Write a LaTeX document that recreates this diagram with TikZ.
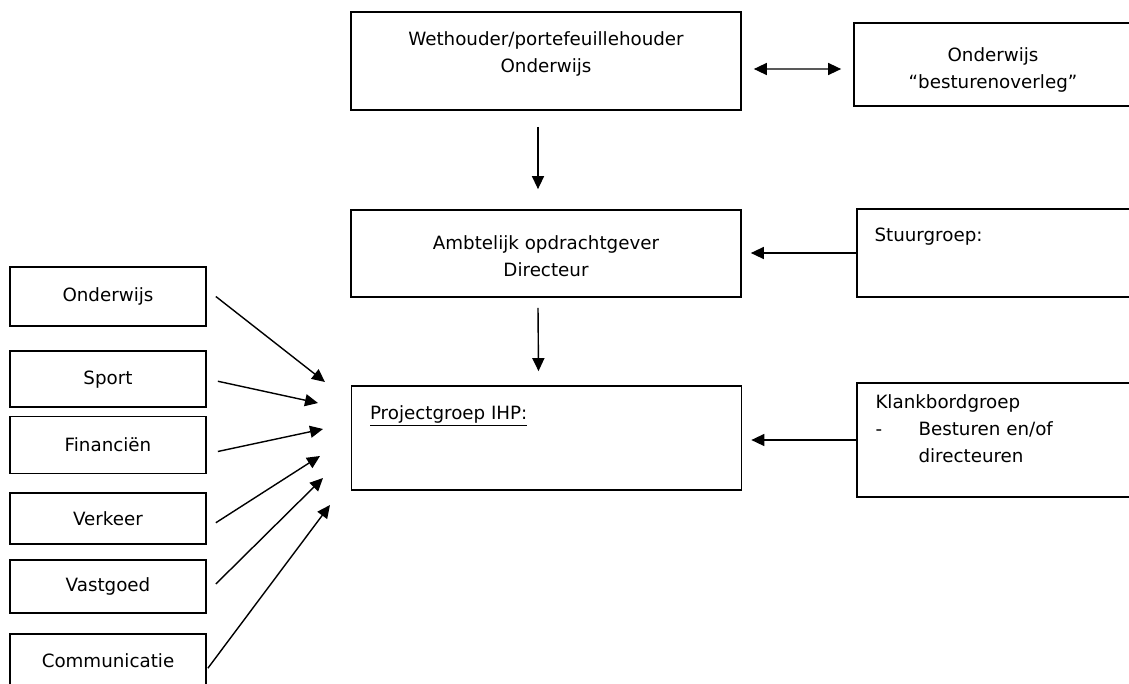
\documentclass[tikz,border=0pt]{standalone}
\usepackage{fontspec}
\setmainfont{DejaVu Sans}
\usetikzlibrary{positioning,arrows.meta}

\begin{document}
\begin{tikzpicture}[
    x=0.02cm,y=-0.02cm,
    box/.style={rectangle,draw=black,line width=1pt,align=center,inner sep=0pt,font=\fontsize{10.4}{15.4}\selectfont},
    side/.style={box,minimum width=3.92cm},
    txt/.style={anchor=north west,inner sep=0pt,align=left,font=\fontsize{10.4}{15.4}\selectfont},
    ctxt/.style={inner sep=0pt,align=center,font=\fontsize{10.4}{15.4}\selectfont},
    arrow/.style={-{Triangle[length=0.26cm,width=0.24cm]},line width=0.8pt},
    dblarrow/.style={{Triangle[length=0.26cm,width=0.24cm]}-{Triangle[length=0.26cm,width=0.24cm]},line width=0.8pt}
]
\useasboundingbox (0,0) rectangle (1129,683);
\clip (0,0) rectangle (1129,683);

% Top row
\node[box,minimum width=7.8cm,minimum height=1.96cm] (weth) at (546,61) {};
\node[ctxt] (weth-t) at ([shift={(0,-7)}]weth.center) {Wethouder/portefeuillehouder\\Onderwijs};
\node[box,minimum width=5.56cm,minimum height=1.66cm] (overleg) at (993,64.5) {};
\node[ctxt] (overleg-t) at ([shift={(0,5)}]overleg.center) {Onderwijs\\“besturenoverleg”};
\draw[dblarrow] ([shift={(12,8)}]weth.east) -- ([shift={(-12,4.5)}]overleg.west);

% Middle row
\node[box,minimum width=7.8cm,minimum height=1.74cm] (ambt) at (546,253.5) {};
\node[ctxt] (ambt-t) at ([shift={(0,3)}]ambt.center) {Ambtelijk opdrachtgever\\Directeur};
\node[box,minimum width=5.56cm,minimum height=1.76cm] (stuur) at (996,253) {};
\node[txt] (stuur-t) at ([shift={(18,19)}]stuur.north west) {Stuurgroep:};
\draw[arrow] ([shift={(-8,16)}]weth.south) -- ([shift={(-8,-20)}]ambt.north);
\draw[arrow,shorten >=0.18cm] (stuur.west) -- (stuur.west -| ambt.east);

% Bottom row
\node[box,minimum width=7.8cm,minimum height=2.08cm] (proj) at (546.5,438) {};
\node[txt] (proj-t) at ([shift={(19,20)}]proj.north west) {\underline{Projectgroep IHP:}};
\node[box,minimum width=5.56cm,minimum height=2.28cm] (klank) at (996,440) {};
\node[txt] (klank-t) at ([shift={(19,12)}]klank.north west) {Klankbordgroep\\\makebox[24.5pt][l]{-}Besturen en/of\\\hspace*{24.5pt}directeuren};
\draw[arrow] ([shift={(-8,10)}]ambt.south) -- ([shift={(-8,-14)}]proj.north);
\draw[arrow,shorten >=0.18cm] (klank.west) -- (klank.west -| proj.east);

% Departments (left)
\node[side,minimum height=1.18cm] (ond) at (108,296.5) {Onderwijs};
\node[side,minimum height=1.12cm,below=0.47cm of ond] (sport) {Sport};
\node[side,minimum height=1.14cm,below=0.15cm of sport] (fin) {Financiën};
\node[side,minimum height=1.02cm,below=0.35cm of fin] (verk) {Verkeer};
\node[side,minimum height=1.06cm,below=0.29cm of verk] (vast) {Vastgoed};
\node[side,minimum height=1.04cm,below=0.39cm of vast] (comm) {Communicatie};

% Arrow tips towards the project group
\coordinate (t-ond) at (325,382);
\coordinate (t-sport) at (318,403);
\coordinate (t-fin) at (323,429);
\coordinate (t-verk) at (320,456);
\coordinate (t-vast) at (323,478);
\coordinate (t-comm) at (330,505);

\draw[arrow] ([shift={(9,0)}]ond.east) -- (t-ond);
\draw[arrow] ([shift={(11,2)}]sport.east) -- (t-sport);
\draw[arrow] ([shift={(11,6.5)}]fin.east) -- (t-fin);
\draw[arrow] ([shift={(9,4.5)}]verk.east) -- (t-verk);
\draw[arrow] ([shift={(9,-2.5)}]vast.east) -- (t-vast);
\draw[arrow] ([shift={(1,8)}]comm.east) -- (t-comm);

\end{tikzpicture}
\end{document}
